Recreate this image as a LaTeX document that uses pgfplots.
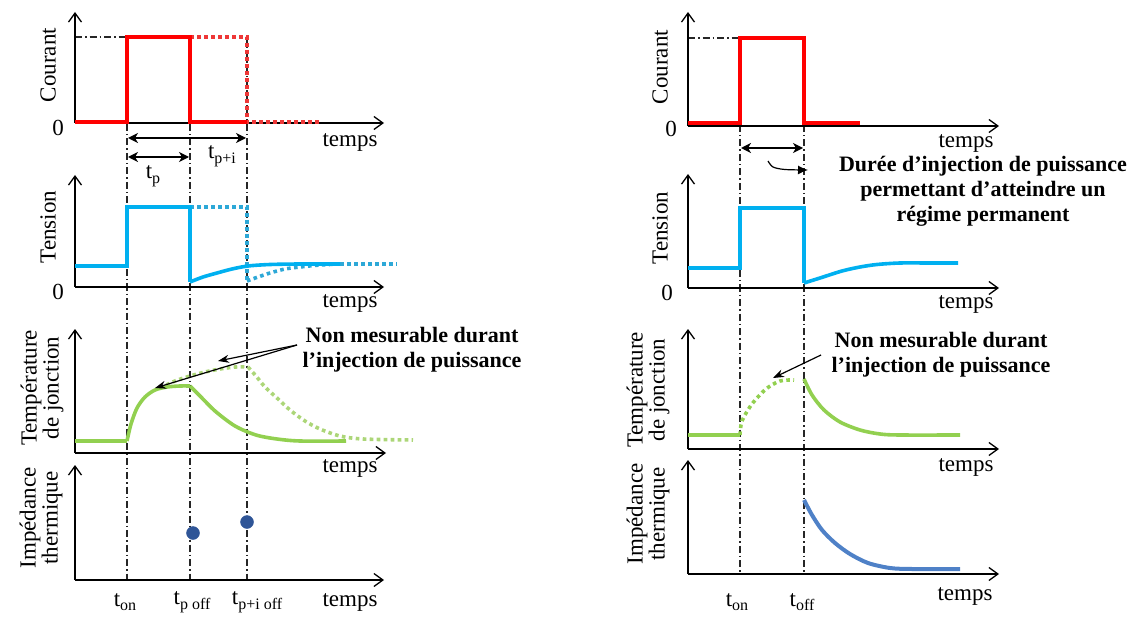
\documentclass[border=0pt]{standalone}
\usepackage{pgfplots}
\pgfplotsset{compat=1.18}
\usepackage{fontspec}
\setmainfont{Liberation Serif}
\usetikzlibrary{arrows.meta}
\definecolor{cred}{RGB}{255,0,0}
\definecolor{cred2}{RGB}{238,55,55}
\definecolor{cblue}{RGB}{0,176,240}
\definecolor{cblue2}{RGB}{45,168,215}
\definecolor{cgreen}{RGB}{146,208,80}
\definecolor{cgreen2}{RGB}{172,214,120}
\definecolor{cimp}{RGB}{79,129,199}
\definecolor{cdot}{RGB}{47,85,151}
\newcommand{\lbl}{\fontsize{23}{22}\selectfont}
\newcommand{\blbl}{\fontsize{22}{25}\selectfont\bfseries}
\newcommand{\sub}[1]{\raisebox{-0.45ex}{\fontsize{16}{16}\selectfont #1}}
\begin{document}
\begin{tikzpicture}
\begin{axis}[x=1pt,y=1pt,xmin=0,xmax=1140,ymin=0,ymax=620,y dir=reverse,hide axis,clip=false,
  axisline/.style={black,line width=1.3pt,-{Straight Barb[length=9pt,width=13pt,line width=1.3pt]}},
  vline/.style={black!85,line width=1.1pt,dash pattern=on 7pt off 3pt on 1.5pt off 3pt},
  solidc/.style={line width=3.6pt},
  dotc/.style={line width=3.6pt,dash pattern=on 3.6pt off 3.4pt},
  dbl/.style={black,line width=1.4pt,{Stealth[length=10pt,width=10pt,inset=3pt]}-{Stealth[length=10pt,width=10pt,inset=3pt]}},
  ann/.style={black,line width=1.2pt,-{Stealth[length=11pt,width=8pt]}},
]
\addplot[draw=none] coordinates {(0,0)(1140,620)};
% ---------- vertical dash-dot guides ----------
\addplot[vline] coordinates {(75,37)(127,37)};
\addplot[vline] coordinates {(127,37)(127,580)};
\addplot[vline] coordinates {(190,37)(190,580)};
\addplot[vline] coordinates {(247,37)(247,580)};
\addplot[vline] coordinates {(688,38)(740,38)};
\addplot[vline] coordinates {(740,38)(740,574)};
\addplot[vline] coordinates {(804,38)(804,574)};
% ---------- left axes ----------
\addplot[axisline] coordinates {(75,123)(75,12)};
\addplot[axisline] coordinates {(75,123)(384,123)};
\addplot[axisline] coordinates {(75,287)(75,175)};
\addplot[axisline] coordinates {(75,287)(384,287)};
\addplot[axisline] coordinates {(75,453)(75,329)};
\addplot[axisline] coordinates {(75,453)(386,453)};
\addplot[axisline] coordinates {(75,580)(75,465)};
\addplot[axisline] coordinates {(75,580)(384,580)};
% ---------- right axes ----------
\addplot[axisline] coordinates {(688,126)(688,12)};
\addplot[axisline] coordinates {(688,126)(999,126)};
\addplot[axisline] coordinates {(688,288)(688,174)};
\addplot[axisline] coordinates {(688,288)(999,288)};
\addplot[axisline] coordinates {(688,449)(688,329)};
\addplot[axisline] coordinates {(688,449)(999,449)};
\addplot[axisline] coordinates {(688,574)(688,460)};
\addplot[axisline] coordinates {(688,574)(999,574)};
% ---------- left: courant ----------
\addplot[cred2,dotc] coordinates {(190,37)(247,37)(247,122)(320,122)};
\addplot[cred,solidc] coordinates {(75,122)(127,122)(127,37)(190,37)(190,122)(247,122)};
% ---------- left: tension ----------
\addplot[cblue2,dotc] coordinates {(190,207)(247,207)(247,281)};
\addplot[cblue2,dotc,smooth] coordinates {(247,281)(258,277)(270,273)(285,269)(300,267)(320,265)(340,264)};
\addplot[cblue2,dotc] coordinates {(340,264)(397,264)};
\addplot[cblue,solidc] coordinates {(75,266)(127,266)(127,207)(190,207)(190,282)};
\addplot[cblue,solidc,smooth] coordinates {(190,282)(203,277)(217,273)(232,269)(248,266)(270,264.5)(300,264)(340,264)};
% ---------- left: temperature ----------
\addplot[cgreen2,dotc,smooth] coordinates {(160,388)(175,381)(190,376)(205,372)(220,369)(235,367)(248,367)};
\addplot[cgreen2,dotc,smooth] coordinates {(248,367)(256,376)(265,387)(277,398)(290,410)(305,421)(320,429)(340,436)(363,439)(413,440)};
\addplot[cgreen,solidc] coordinates {(75,441)(127,441)};
\addplot[cgreen,solidc,smooth] coordinates {(127,441)(131,424)(137,408)(145,397)(155,390)(167,387)(180,386)(190,386)};
\addplot[cgreen,solidc,smooth] coordinates {(190,386)(201,397)(215,411)(235,426)(256,435)(277,439)(300,441)(346,441)};
% ---------- left: impedance ----------
\addplot[only marks,mark=*,mark size=6.5pt,mark options={fill=cdot,draw=cdot}] coordinates {(193,533)(247,522)};
% ---------- left: arrows ----------
\addplot[dbl] coordinates {(128,138)(246,138)};
\addplot[dbl] coordinates {(128,157)(189,157)};
\addplot[ann] coordinates {(297,345)(218,361)};
\addplot[ann] coordinates {(297,345)(155,388)};
% ---------- right: courant ----------
\addplot[cred,solidc] coordinates {(688,123)(740,123)(740,38)(804,38)(804,123)(860,123)};
% ---------- right: tension ----------
\addplot[cblue,solidc] coordinates {(688,268)(740,268)(740,208)(804,208)(804,283)};
\addplot[cblue,solidc,smooth] coordinates {(804,283)(820,278)(842,271)(860,267)(877,264.5)(900,263)(930,263)(958,263)};
% ---------- right: temperature ----------
\addplot[cgreen,solidc] coordinates {(688,435)(740,435)};
\addplot[cgreen,dotc,smooth] coordinates {(740,435)(742,421)(752,404)(766,389)(780,381)(794,380)};
\addplot[cgreen,solidc,smooth] coordinates {(804,379)(812,395)(824,410)(840,422)(860,430)(880,434)(900,435)(960,435)};
% ---------- right: impedance ----------
\addplot[cimp,line width=4pt,smooth] coordinates {(804,500)(812,515)(822,530)(835,543)(850,554)(868,563)(890,568)(912,569)(960,569)};
% ---------- right: arrows ----------
\addplot[dbl] coordinates {(741,148)(803,148)};
\addplot[black,line width=1.2pt,smooth,-{Latex[length=10pt,width=9pt]}] coordinates {(768,161)(773,167)(785,169.5)(808,170)};
\addplot[ann] coordinates {(821,355)(773,378)};
% ---------- left texts ----------
\node[rotate=90,font=\lbl] at (axis cs:48,65) {Courant};
\node[font=\lbl] at (axis cs:58,128) {0};
\node[font=\lbl] at (axis cs:350,142) {temps};
\node[font=\lbl] at (axis cs:153,176) {t\sub{p}};
\node[font=\lbl] at (axis cs:222,156) {t\sub{p+i}};
\node[rotate=90,font=\lbl] at (axis cs:48,227) {Tension};
\node[font=\lbl] at (axis cs:58,292) {0};
\node[font=\lbl] at (axis cs:350,303) {temps};
\node[rotate=90,font=\lbl,align=center] at (axis cs:42,388) {Température\\de jonction};
\node[font=\lbl] at (axis cs:350,468) {temps};
\node[font=\blbl,align=center] at (axis cs:412,350) {Non mesurable durant\\l’injection de puissance};
\node[rotate=90,font=\lbl,align=center] at (axis cs:41,518) {Impédance\\thermique};
\node[font=\lbl] at (axis cs:125,602) {t\sub{on}};
\node[font=\lbl] at (axis cs:192,602) {t\sub{p off}};
\node[font=\lbl] at (axis cs:257,602) {t\sub{p+i off}};
\node[font=\lbl] at (axis cs:350,602) {temps};
% ---------- right texts ----------
\node[rotate=90,font=\lbl] at (axis cs:660,67) {Courant};
\node[font=\lbl] at (axis cs:671,129) {0};
\node[font=\lbl] at (axis cs:966,143) {temps};
\node[font=\blbl,align=center] at (axis cs:983,191) {Durée d’injection de puissance\\permettant d’atteindre un\\régime permanent};
\node[rotate=90,font=\lbl] at (axis cs:660,228) {Tension};
\node[font=\lbl] at (axis cs:667,293) {0};
\node[font=\lbl] at (axis cs:966,304) {temps};
\node[rotate=90,font=\lbl,align=center] at (axis cs:648,390) {Température\\de jonction};
\node[font=\blbl,align=center] at (axis cs:941,355) {Non mesurable durant\\l’injection de puissance};
\node[font=\lbl] at (axis cs:966,467) {temps};
\node[rotate=90,font=\lbl,align=center] at (axis cs:648,514) {Impédance\\thermique};
\node[font=\lbl] at (axis cs:737,602) {t\sub{on}};
\node[font=\lbl] at (axis cs:802,602) {t\sub{off}};
\node[font=\lbl] at (axis cs:965,596) {temps};
\end{axis}
\end{tikzpicture}
\end{document}
